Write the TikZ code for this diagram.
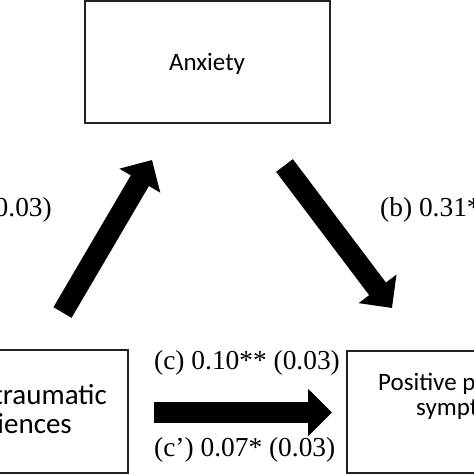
\documentclass[tikz,border=0pt]{standalone}
\usepackage{fontspec}
\setmainfont{Liberation Serif}
\newfontfamily\boxfont{Carlito}
\usetikzlibrary{arrows.meta}
\definecolor{edge}{HTML}{222222}
\begin{document}
\begin{tikzpicture}[x=1pt,y=-1pt,
  varbox/.style={draw=edge,line width=1.6pt,fill=white,inner sep=0pt},
  boxtext/.style={font=\boxfont\fontsize{25}{30}\selectfont,inner sep=0pt},
  bigtext/.style={font=\boxfont\fontsize{29}{32}\selectfont,inner sep=0pt},
  coef/.style={font=\fontsize{27.4}{30}\selectfont,inner sep=0pt},
  bigarrow/.style={line width=21pt,-{Triangle[length=24pt,width=46pt]}}]
\useasboundingbox (0,0) rectangle (474,474);
\clip (0,0) rectangle (474,474);
% boxes
\node[varbox,minimum width=245pt,minimum height=122pt] (anx) at (207.5,62) {};
\node[boxtext,anchor=base] (anxt) at (207,70) {Anxiety};
\node[varbox,minimum width=236pt,minimum height=123pt] (pte) at (10,411.5) {};
\node[bigtext,anchor=base east] (pte1) at (107,404) {Potentially traumatic};
\node[bigtext,anchor=base east] (pte2) at (72,433) {experiences};
\node[varbox,minimum width=236pt,minimum height=122pt] (pps) at (465,412) {};
\node[boxtext,anchor=base west] (pps1) at (378,390) {Positive psychotic};
\node[boxtext,anchor=base west] (pps2) at (416,415) {symptoms};
% arrow end points
\coordinate (a0) at (62.5,312.5);
\coordinate (a1) at (152,160);
\coordinate (b0) at (284.5,165.5);
\coordinate (b1) at (392,308);
\coordinate (c0) at (154,412.5);
\coordinate (c1) at (332,412.5);
\draw[bigarrow] (a0) -- (a1);
\draw[bigarrow] (b0) -- (b1);
\draw[bigarrow] (c0) -- (c1);
% labels
\node[coef,anchor=east] (la) at (52,210) {(0.03)};
\node[coef,anchor=west] (lb) at (380,210) {(b) 0.31** (0.03)};
\node[coef,anchor=west] (lc) at (154,363) {(c) 0.10** (0.03)};
\node[coef,anchor=west] (lcp) at (154,450) {(c’) 0.07* (0.03)};
\end{tikzpicture}
\end{document}
